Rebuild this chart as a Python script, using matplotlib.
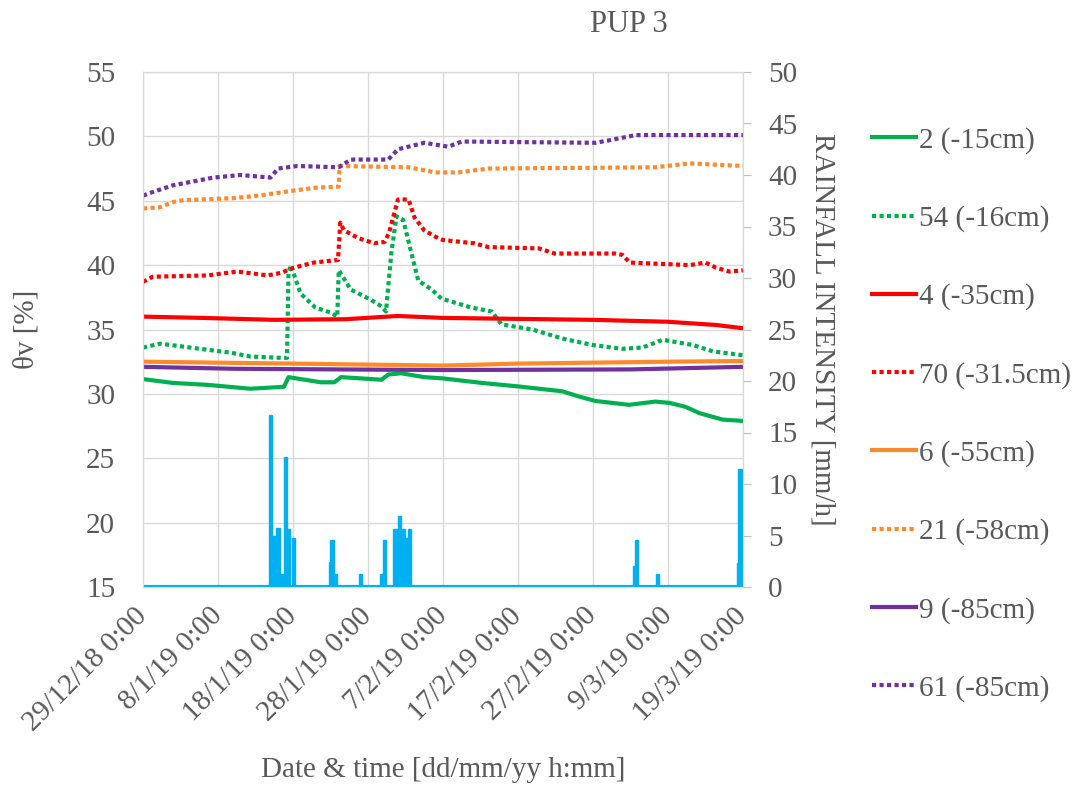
import numpy as np
import matplotlib
matplotlib.use('Agg')
import matplotlib.pyplot as plt
from datetime import datetime, timedelta

plt.rcParams['font.family'] = ['Liberation Serif', 'DejaVu Serif']
plt.rcParams['text.color'] = '#595959'
plt.rcParams['axes.labelcolor'] = '#595959'
plt.rcParams['xtick.color'] = '#595959'
plt.rcParams['ytick.color'] = '#595959'

start = datetime(2018, 12, 29)

# soil moisture series: (days since 29/12/18, theta_v %)
d_2 = [0, 4.0, 8.6, 14.3, 18.8, 19.4, 23.7, 25.5, 26.4, 31.8, 32.7, 34.4, 37.5, 40.0, 45.2,
       50.5, 55.9, 58.1, 60.3, 64.8, 68.3, 70.2, 72.3, 74.2, 77.3, 80]
v_2 = [31.15, 30.85, 30.7, 30.4, 30.55, 31.3, 30.9, 30.9, 31.3, 31.1, 31.5, 31.6, 31.3, 31.2, 30.85,
       30.55, 30.2, 29.8, 29.45, 29.15, 29.4, 29.3, 29.0, 28.5, 28.0, 27.9]

d_54 = [0, 2.3, 7.6, 11.7, 14.3, 18.4, 19.2, 19.4, 19.7, 21.0, 23.0, 25.1, 25.9, 26.1, 27.7, 30.4,
        31.8, 32.4, 33.1, 33.8, 34.7, 35.8, 36.7, 38.5, 39.8, 43.8, 46.5, 47.8, 51.9, 55.9, 59.9,
        63.9, 66.6, 69.3, 73.3, 76.0, 80]
v_54 = [33.6, 33.9, 33.5, 33.2, 32.9, 32.8, 32.8, 39.4, 40.0, 37.8, 36.7, 36.3, 36.0, 39.6, 38.1, 37.3,
        36.8, 36.4, 40.9, 43.8, 43.5, 40.9, 38.8, 38.1, 37.4, 36.7, 36.4, 35.4, 35.0, 34.3, 33.8,
        33.5, 33.6, 34.2, 33.8, 33.3, 33.0]

d_4 = [0, 8, 17.5, 27, 34.0, 40, 60, 70, 76.4, 80]
v_4 = [36.0, 35.9, 35.75, 35.8, 36.05, 35.9, 35.75, 35.6, 35.35, 35.1]

d_70 = [0, 1.3, 8.6, 12.6, 16.6, 18.4, 20.1, 22.8, 26.0, 26.3, 26.8, 28.7, 30.8, 32.2, 32.8, 34.0,
        35.4, 36.2, 37.5, 39.0, 40.0, 44.1, 46.1, 52.8, 54.9, 62.9, 63.9, 64.9, 72.9, 75.0, 76.4,
        78.2, 80]
v_70 = [38.7, 39.1, 39.2, 39.5, 39.2, 39.4, 39.8, 40.2, 40.4, 43.3, 42.7, 42.1, 41.7, 41.8, 42.5, 45.1,
        45.1, 43.7, 42.7, 42.2, 41.95, 41.7, 41.4, 41.3, 40.9, 40.9, 40.8, 40.2, 40.0, 40.2, 39.8,
        39.5, 39.6]

d_6 = [0, 20, 40, 50, 70, 80]
v_6 = [32.5, 32.35, 32.2, 32.35, 32.5, 32.55]

d_21 = [0, 2.3, 4.0, 5.4, 12.0, 15.5, 19.6, 22.8, 26.1, 26.2, 35.4, 39.0, 42.0, 46.1, 68.3, 72.9, 80]
v_21 = [44.4, 44.5, 44.9, 45.05, 45.2, 45.4, 45.75, 46.0, 46.1, 47.7, 47.6, 47.2, 47.2, 47.5, 47.6, 47.9, 47.7]

d_9 = [0, 12, 40, 65, 80]
v_9 = [32.1, 31.95, 31.85, 31.9, 32.1]

d_61 = [0, 0.9, 4.0, 9.4, 13.0, 17.0, 18.0, 20.6, 26.1, 27.7, 32.7, 34.0, 37.5, 40.7, 42.5, 60.3,
        62.2, 65.7, 80]
v_61 = [45.4, 45.6, 46.2, 46.8, 47.0, 46.8, 47.5, 47.7, 47.6, 48.2, 48.2, 49.0, 49.5, 49.2, 49.6, 49.5,
        49.7, 50.1, 50.1]

# rainfall intensity events (days, mm/h)
rain_d = [17.0, 17.4, 18.0, 18.6, 19.0, 19.4, 20.1, 25.0, 25.2, 25.6, 28.96, 31.8, 32.2, 33.5, 33.8,
          34.2, 34.7, 35.1, 35.5, 65.6, 65.8, 68.6, 79.4, 79.6]
rain_v = [16.7, 5.0, 5.7, 1.3, 12.6, 5.6, 4.8, 2.4, 4.6, 1.3, 1.3, 1.3, 4.6, 5.6, 5.6,
          6.9, 5.6, 4.8, 5.6, 2.0, 4.6, 1.3, 2.3, 11.5]

GREEN, RED, ORANGE, PURPLE, CYAN = '#00B050', '#FF0000', '#FF8A2B', '#7030A0', '#00B0F0'
DOT = (0, (1, 0.8))


def to_dates(days):
    return [start + timedelta(days=d) for d in days]


fig = plt.figure(figsize=(10.89, 7.98), dpi=100)
ax = fig.add_axes([143/1089, 1-587/798, 600/1089, 515/798])
ax2 = ax.twinx()

series = [
    (d_2, v_2, GREEN, '-', '2 (-15cm)'),
    (d_54, v_54, GREEN, DOT, '54 (-16cm)'),
    (d_4, v_4, RED, '-', '4 (-35cm)'),
    (d_70, v_70, RED, DOT, '70 (-31.5cm)'),
    (d_6, v_6, ORANGE, '-', '6 (-55cm)'),
    (d_21, v_21, ORANGE, DOT, '21 (-58cm)'),
    (d_9, v_9, PURPLE, '-', '9 (-85cm)'),
    (d_61, v_61, PURPLE, DOT, '61 (-85cm)'),
]
handles = []
for d, v, c, ls, lab in series:
    h, = ax.plot(to_dates(d), v, color=c, linestyle=ls, lw=3, label=lab)
    handles.append(h)

ax2.bar(to_dates(rain_d), rain_v, width=0.42, color=CYAN, edgecolor=CYAN, lw=1)
ax2.axhline(0, color=CYAN, lw=3)

ax.set_xlim(start, start + timedelta(days=80))
ax.set_ylim(15, 55)
ax2.set_ylim(0, 50)
ax.set_yticks(np.arange(15, 56, 5))
ax2.set_yticks(np.arange(0, 51, 5))

ticks = [start + timedelta(days=10*k) for k in range(9)]
ax.set_xticks(ticks)
ax.set_xticklabels([f"{t.day}/{t.month}/{t:%y} 0:00" for t in ticks],
                   rotation=45, ha='right', va='center', rotation_mode='anchor')

ax.grid(True, color='#D9D9D9', lw=1)
ax.set_axisbelow(True)
for a in (ax, ax2):
    for s in a.spines.values():
        s.set_color('#D9D9D9')
ax.tick_params(axis='y', length=0, pad=20, labelsize=21)
ax.tick_params(axis='x', length=0, pad=18, labelsize=21)
ax2.tick_params(axis='y', length=6, color='#BFBFBF', direction='out', pad=12, labelsize=21)

ax.set_ylabel('θv [%]', fontsize=21)
ax.yaxis.set_label_coords(-0.172, 0.5)
ax2.set_ylabel('RAINFALL INTENSITY [mm/h]', fontsize=21, rotation=270, va='center')
ax2.yaxis.set_label_coords(1.132, 0.5)
ax.set_xlabel('Date & time [dd/mm/yy h:mm]', fontsize=21, va='center')
ax.xaxis.set_label_coords(0.5, -0.355)

fig.text(629/1089, 1-25/798, 'PUP 3', ha='center', va='center', fontsize=22)

fig.legend(handles=handles, loc='upper left', bbox_to_anchor=(872/1089, 1-127/798),
           frameon=False, fontsize=21, handlelength=1.5, handletextpad=0.1,
           labelspacing=1.76, borderpad=0, borderaxespad=0)

fig.savefig('out.png', dpi=100)
